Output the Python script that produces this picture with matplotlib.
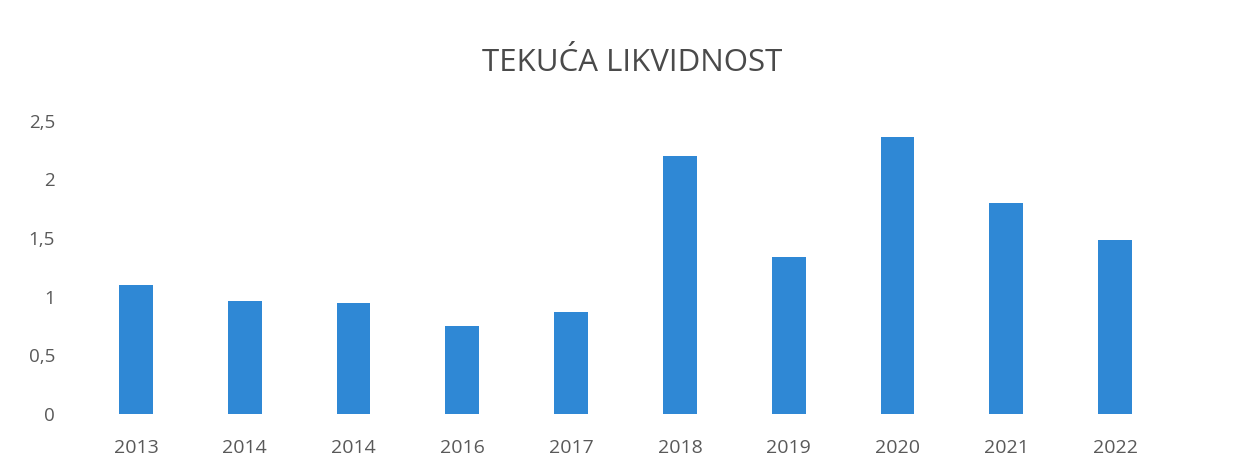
import matplotlib.pyplot as plt

# Podaci
godine = ['2013', '2014', '2014', '2016', '2017', '2018', '2019', '2020', '2021', '2022']
likvidnost = [1.10, 0.96, 0.95, 0.75, 0.87, 2.20, 1.34, 2.36, 1.80, 1.48]
y_ticks = [0, 0.5, 1, 1.5, 2, 2.5]
y_labels = ['0', '0,5', '1', '1,5', '2', '2,5']

plt.rcParams['font.family'] = ['Open Sans', 'DejaVu Sans']

fig = plt.figure(figsize=(12.35, 4.55), dpi=100)
ax = fig.add_axes([0.066, 0.09, 0.881, 0.645])

x = range(len(godine))
ax.bar(x, likvidnost, width=0.31, color='#2F88D5')

ax.set_xlim(-0.5, len(godine) - 0.5)
ax.set_ylim(0, 2.5)
ax.set_xticks(list(x))
ax.set_xticklabels(godine, fontsize=14, color='#595959')
ax.set_yticks(y_ticks)
ax.set_yticklabels(y_labels, fontsize=13.5, color='#595959')
ax.tick_params(axis='both', length=0)
ax.tick_params(axis='y', pad=19)
ax.tick_params(axis='x', pad=18)
for s in ax.spines.values():
    s.set_visible(False)

fig.text(0.512, 0.862, 'TEKUĆA LIKVIDNOST', ha='center', va='center',
         fontsize=22.5, color='#4a4a4a')

fig.savefig('out.png', dpi=100)
